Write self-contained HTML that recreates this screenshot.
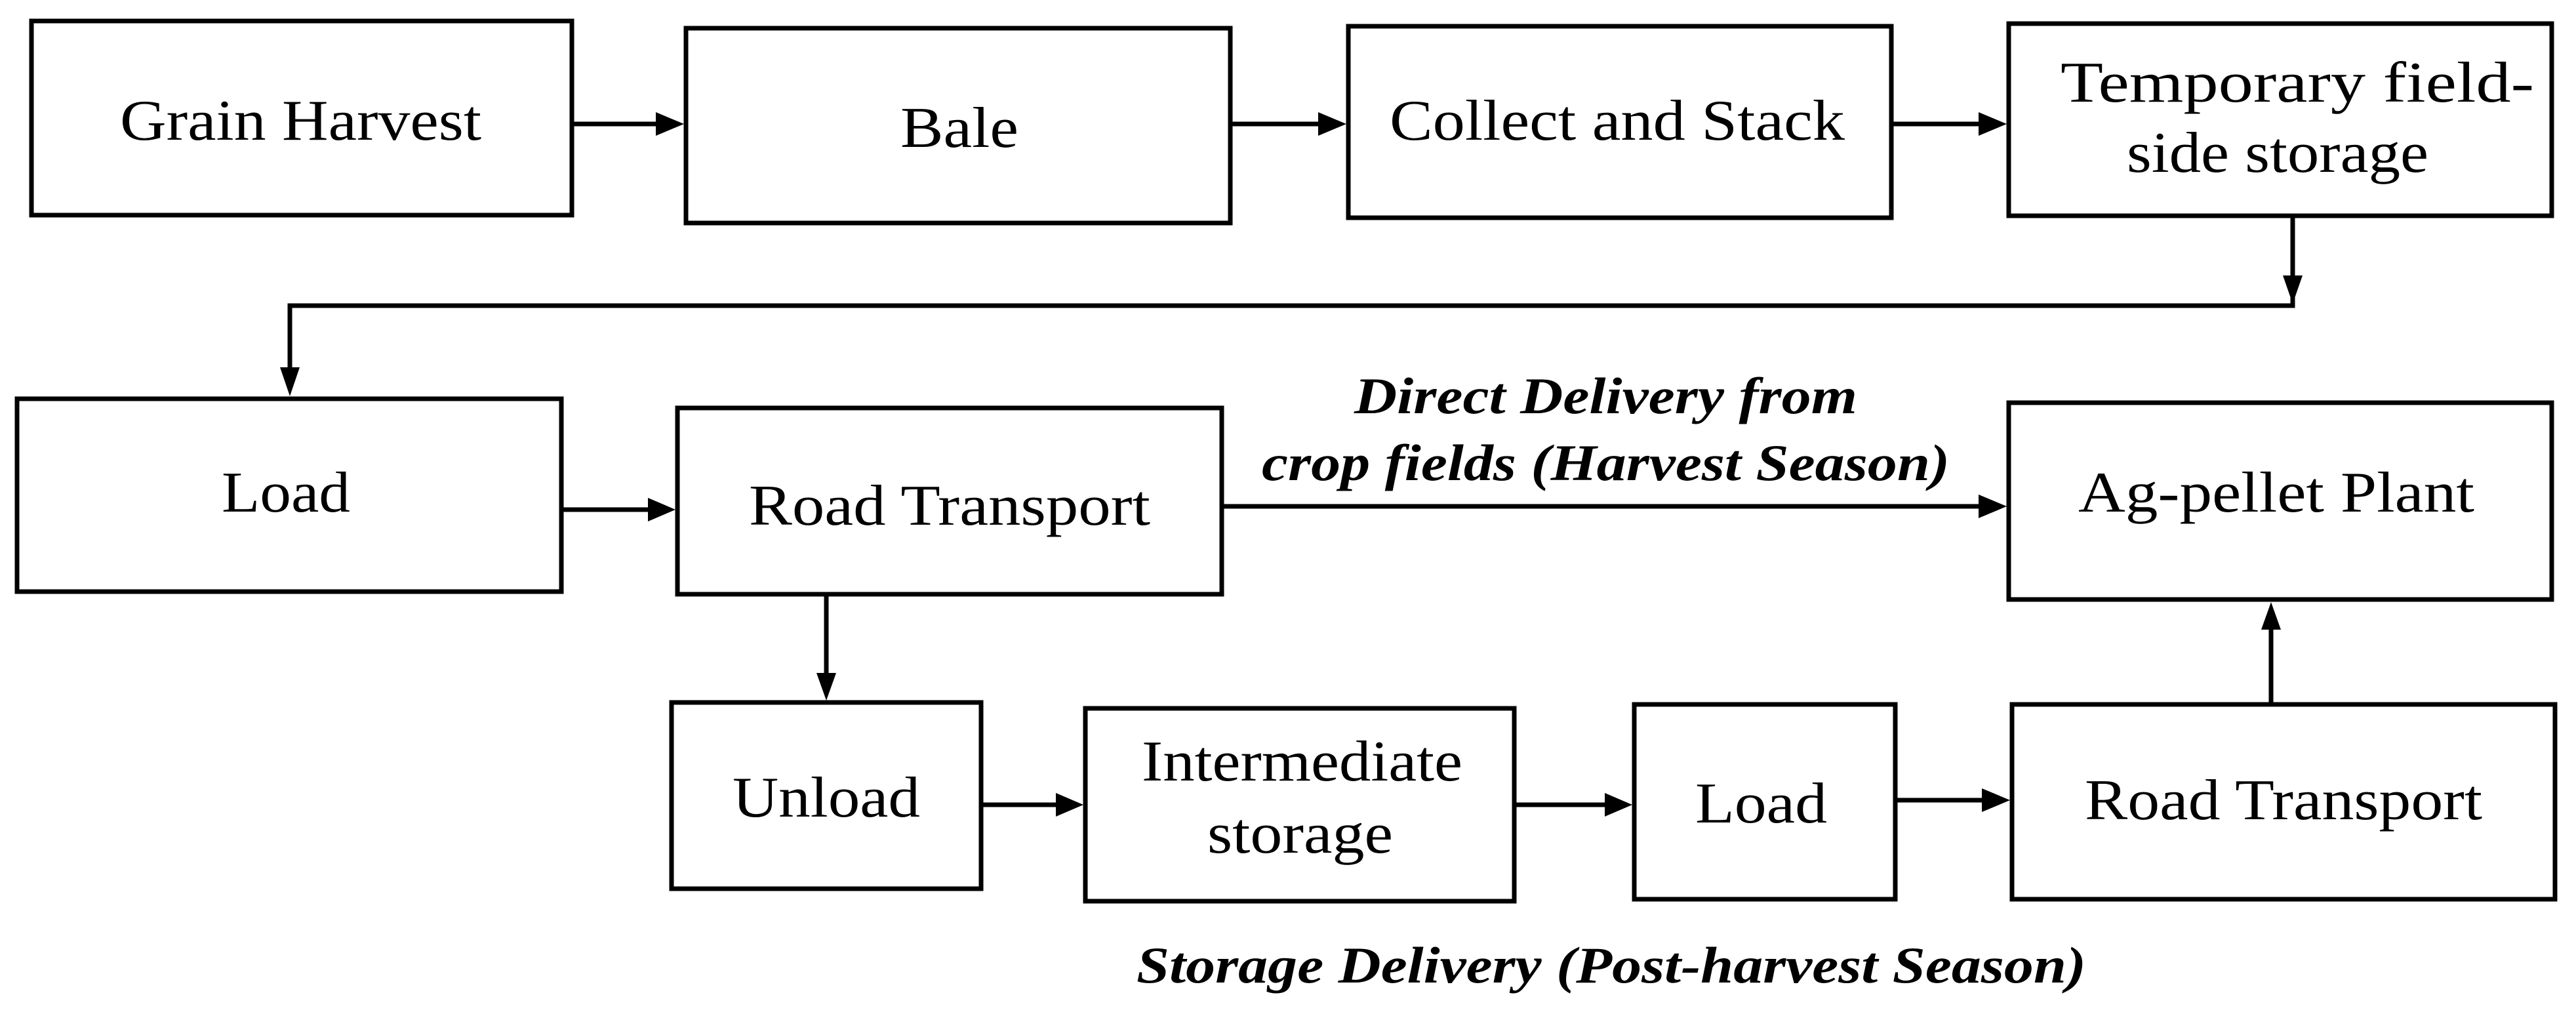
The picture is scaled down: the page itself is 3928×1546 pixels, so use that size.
<!DOCTYPE html>
<html><head><meta charset="utf-8"><style>
html,body{margin:0;padding:0;background:#fff;}
svg{display:block}
text{font-family:"Liberation Serif",serif;fill:#000;}
.n{font-size:88px;}
.b{font-size:78px;font-weight:bold;font-style:italic;}
</style></head><body>
<svg width="3928" height="1546" viewBox="0 0 3928 1546" xmlns="http://www.w3.org/2000/svg">
<defs>
<marker id="a" markerWidth="10" markerHeight="10" refX="9" refY="5" orient="auto" markerUnits="userSpaceOnUse" viewBox="0 0 10 10" style="overflow:visible">
<path d="M0,0 L10,5 L0,10 Z" transform="scale(4.5) translate(-5,-5) translate(5,5)" fill="#000"/>
</marker>
</defs>
<g fill="none" stroke="#000" stroke-width="7">
<rect x="48" y="32" width="824" height="296"/>
<rect x="1046" y="43" width="830" height="297"/>
<rect x="2056" y="40" width="828" height="292"/>
<rect x="3063" y="36" width="828" height="293"/>
<rect x="26" y="608" width="830" height="294"/>
<rect x="1033" y="622" width="830" height="284"/>
<rect x="3063" y="614" width="828" height="300"/>
<rect x="1024" y="1071" width="472" height="284"/>
<rect x="1655" y="1080" width="654" height="294"/>
<rect x="2492" y="1074" width="398" height="297"/>
<rect x="3068" y="1074" width="828" height="297"/>
</g>
<g stroke="#000" stroke-width="7" fill="none">
<line x1="872" y1="189" x2="1000" y2="189"/>
<line x1="1876" y1="189" x2="2010" y2="189"/>
<line x1="2884" y1="189" x2="3017" y2="189"/>
<polyline points="3496,329 3496,466 442,466 442,560"/>
<line x1="856" y1="777" x2="988" y2="777"/>
<line x1="1863" y1="772" x2="3017" y2="772"/>
<line x1="1260" y1="906" x2="1260" y2="1026"/>
<line x1="1496" y1="1227" x2="1610" y2="1227"/>
<line x1="2309" y1="1227" x2="2447" y2="1227"/>
<line x1="2890" y1="1220" x2="3022" y2="1220"/>
<line x1="3463" y1="1074" x2="3463" y2="960"/>
</g>
<g fill="#000">
<polygon points="1000,171 1043,189 1000,207"/>
<polygon points="2010,171 2053,189 2010,207"/>
<polygon points="3017,171 3060,189 3017,207"/>
<polygon points="3481,420 3511,420 3496,463"/>
<polygon points="427,560 457,560 442,604"/>
<polygon points="988,759 1030,777 988,795"/>
<polygon points="3017,754 3060,772 3017,790"/>
<polygon points="1245,1026 1275,1026 1260,1068"/>
<polygon points="1610,1209 1652,1227 1610,1245"/>
<polygon points="2447,1209 2489,1227 2447,1245"/>
<polygon points="3022,1202 3065,1220 3022,1238"/>
<polygon points="3448,960 3478,960 3463,918"/>
</g>
<text class="n" x="183" y="213" textLength="551" lengthAdjust="spacingAndGlyphs">Grain Harvest</text>
<text class="n" x="1373" y="224" textLength="180" lengthAdjust="spacingAndGlyphs">Bale</text>
<text class="n" x="2119" y="213" textLength="694" lengthAdjust="spacingAndGlyphs">Collect and Stack</text>
<text class="n" x="3142" y="155" textLength="722" lengthAdjust="spacingAndGlyphs">Temporary field-</text>
<text class="n" x="3243" y="262" textLength="460" lengthAdjust="spacingAndGlyphs">side storage</text>
<text class="n" x="338" y="780" textLength="196" lengthAdjust="spacingAndGlyphs">Load</text>
<text class="n" x="1142" y="800" textLength="612" lengthAdjust="spacingAndGlyphs">Road Transport</text>
<text class="n" x="3169" y="780" textLength="604" lengthAdjust="spacingAndGlyphs">Ag-pellet Plant</text>
<text class="n" x="1117" y="1245" textLength="286" lengthAdjust="spacingAndGlyphs">Unload</text>
<text class="n" x="1741" y="1190" textLength="489" lengthAdjust="spacingAndGlyphs">Intermediate</text>
<text class="n" x="1841" y="1300" textLength="283" lengthAdjust="spacingAndGlyphs">storage</text>
<text class="n" x="2585" y="1254" textLength="201" lengthAdjust="spacingAndGlyphs">Load</text>
<text class="n" x="3179" y="1249" textLength="606" lengthAdjust="spacingAndGlyphs">Road Transport</text>
<text class="b" x="2065" y="630" textLength="767" lengthAdjust="spacingAndGlyphs">Direct Delivery from</text>
<text class="b" x="1924" y="732" textLength="1049" lengthAdjust="spacingAndGlyphs">crop fields (Harvest Season)</text>
<text class="b" x="1733" y="1498" textLength="1448" lengthAdjust="spacingAndGlyphs">Storage Delivery (Post-harvest Season)</text>
</svg>
</body></html>
